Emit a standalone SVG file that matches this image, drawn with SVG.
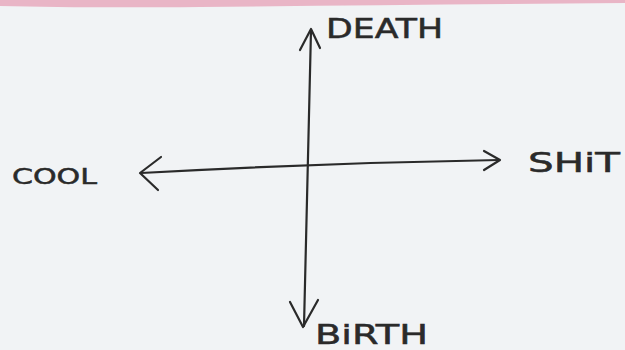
<svg xmlns="http://www.w3.org/2000/svg" width="625" height="350" viewBox="0 0 625 350">
<style>
.ln{fill:none;stroke:#2a2a2a;stroke-width:2.2;stroke-linecap:round;stroke-linejoin:round}
.lbl{font-family:"DejaVu Sans","Liberation Sans",sans-serif;fill:#2a2a2a;stroke:#2a2a2a;stroke-width:0.5}
</style>
<rect x="0" y="0" width="625" height="350" fill="#f1f3f5"/>
<path d="M0 0 H625 V3 Q400 5 200 7 Q80 8 0 6 Z" fill="#e9b5c6"/>
<g id="connectors">
<path class="ln" d="M311 30 Q307 180 304 326"/>
<path class="ln" d="M300 50 L311 29 L320 48"/>
<path class="ln" d="M290 302 L303 327 L318 300"/>
<path class="ln" d="M141 173 Q320 163 499 160"/>
<path class="ln" d="M161 157 L140 173 L158 190"/>
<path class="ln" d="M484 151 L500 160 L484 170"/>
</g>
<g id="death"><text class="lbl" x="326" y="38" font-size="26" textLength="117" lengthAdjust="spacingAndGlyphs">DEATH</text></g>
<g id="cool"><text class="lbl" x="12" y="184" font-size="22" textLength="85" lengthAdjust="spacingAndGlyphs">COOL</text></g>
<g id="shit"><text class="lbl" x="528" y="172" font-size="26" textLength="92" lengthAdjust="spacingAndGlyphs">SHiT</text></g>
<g id="birth"><text class="lbl" x="315" y="344" font-size="26" textLength="113" lengthAdjust="spacingAndGlyphs">BiRTH</text></g>
</svg>
